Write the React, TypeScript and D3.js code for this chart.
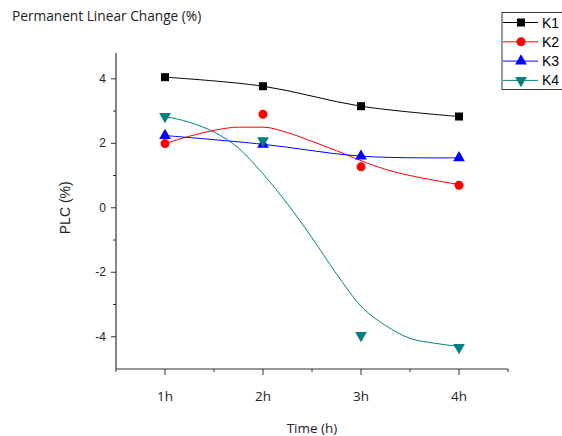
import React from "react";
import { scaleLinear, line, curveMonotoneX, curveCatmullRom, symbol, symbolTriangle } from "d3";

const width = 562;
const height = 436;

const hours = [1, 2, 3, 4];
const tickLabels = ["1h", "2h", "3h", "4h"];
const yTicks = [-4, -2, 0, 2, 4];
const yMinor = [-3, -1, 1, 3];
const xMinor = [0.5, 1.5, 2.5, 3.5, 4.5];

const k1 = [4.05, 3.77, 3.15, 2.83];
const k2 = [1.99, 2.9, 1.27, 0.7];
const k3 = [2.24, 1.97, 1.6, 1.55];
const k4 = [2.83, 2.08, -3.96, -4.33];

// fitted curves, quarter-hour steps
const fitHours = [1, 1.25, 1.5, 1.75, 2, 2.25, 2.5, 2.75, 3, 3.25, 3.5, 3.75, 4];
const k2Fit = [1.99, 2.22, 2.4, 2.5, 2.5, 2.33, 2.06, 1.77, 1.46, 1.19, 1.0, 0.85, 0.72];
const k4Fit = [2.83, 2.65, 2.35, 1.85, 1.05, 0.12, -0.93, -2.05, -3.05, -3.65, -4.05, -4.2, -4.3];

const series = [
  { name: "K1", color: "#000000", values: k1, fit: null, shape: "square" },
  { name: "K2", color: "#ff0000", values: k2, fit: k2Fit, shape: "circle" },
  { name: "K3", color: "#0000ff", values: k3, fit: null, shape: "up" },
  { name: "K4", color: "#008080", values: k4, fit: k4Fit, shape: "down" },
];

const x = scaleLinear().domain([0.5, 4.5]).range([116, 508]);
const y = scaleLinear().domain([-5, 4.8]).range([369, 53]);

const marker = (shape: string, cx: number, cy: number, color: string) => {
  if (shape === "square") {
    return <rect x={cx - 4} y={cy - 4} width={8} height={8} fill={color} />;
  }
  if (shape === "circle") {
    return <circle cx={cx} cy={cy} r={4.5} fill={color} />;
  }
  const d = symbol(symbolTriangle, 60)();
  return (
    <path
      d={d || ""}
      transform={`translate(${cx},${cy}) rotate(${shape === "down" ? 180 : 0})`}
      fill={color}
    />
  );
};

const App = () => {
  const pointLine = line<number>()
    .x((_, i) => x(hours[i]))
    .y((v) => y(v))
    .curve(curveCatmullRom);
  const fitLine = line<number>()
    .x((_, i) => x(fitHours[i]))
    .y((v) => y(v))
    .curve(curveMonotoneX);

  return (
    <svg width={width} height={height} style={{ position: "absolute", left: 0, top: 0, background: "#fff" }}>
      <text x={12} y={21} fontFamily="Open Sans" fontSize={13.7} fill="#222">
        Permanent Linear Change (%)
      </text>

      {/* axes */}
      <line x1={116} x2={116} y1={y(4.8)} y2={y(-5)} stroke="#333" strokeWidth={1.2} />
      <line x1={x(0.5)} x2={x(4.5)} y1={y(-5)} y2={y(-5)} stroke="#333" strokeWidth={1.2} />
      {yTicks.map((t) => (
        <g key={t}>
          <line x1={111} x2={116} y1={y(t)} y2={y(t)} stroke="#333" />
          <text x={106} y={y(t)} dy="0.35em" textAnchor="end" fontFamily="Liberation Sans" fontSize={12} fill="#222">
            {t}
          </text>
        </g>
      ))}
      {yMinor.map((t) => (
        <line key={t} x1={113} x2={116} y1={y(t)} y2={y(t)} stroke="#333" />
      ))}
      {hours.map((h, i) => (
        <g key={h}>
          <line x1={x(h)} x2={x(h)} y1={y(-5)} y2={y(-5) + 6} stroke="#333" />
          <text x={x(h)} y={401} textAnchor="middle" fontFamily="Open Sans" fontSize={13.5} fill="#222">
            {tickLabels[i]}
          </text>
        </g>
      ))}
      {xMinor.map((h) => (
        <line key={h} x1={x(h)} x2={x(h)} y1={y(-5)} y2={y(-5) + 3} stroke="#333" />
      ))}
      <text x={312} y={433} textAnchor="middle" fontFamily="Open Sans" fontSize={13.5} fill="#222">
        Time (h)
      </text>
      <text
        transform={`translate(70,${y(0)}) rotate(-90)`}
        textAnchor="middle"
        fontFamily="Liberation Sans"
        fontSize={14}
        fill="#222"
      >
        PLC (%)
      </text>

      {/* lines */}
      {series.map((s) => (
        <path
          key={s.name}
          d={(s.fit ? fitLine(s.fit) : pointLine(s.values)) || ""}
          fill="none"
          stroke={s.color}
          strokeWidth={1}
        />
      ))}
      {series.map((s) => (
        <g key={s.name + "m"}>
          {s.values.map((v, i) => (
            <g key={i}>{marker(s.shape, x(hours[i]), y(v), s.color)}</g>
          ))}
        </g>
      ))}

      {/* legend */}
      <rect x={502} y={12.5} width={70} height={77} fill="#fff" stroke="#333" strokeWidth={1} />
      {series.map((s, i) => {
        const ly = 22.5 + i * 19.3;
        return (
          <g key={s.name + "l"}>
            <line x1={503} x2={538} y1={ly} y2={ly} stroke={s.color} strokeWidth={1} />
            {marker(s.shape, 521, ly, s.color)}
            <text x={542} y={ly} dy="0.36em" fontFamily="Liberation Sans" fontSize={14} fill="#000">
              {s.name}
            </text>
          </g>
        );
      })}
    </svg>
  );
};

export default App;
